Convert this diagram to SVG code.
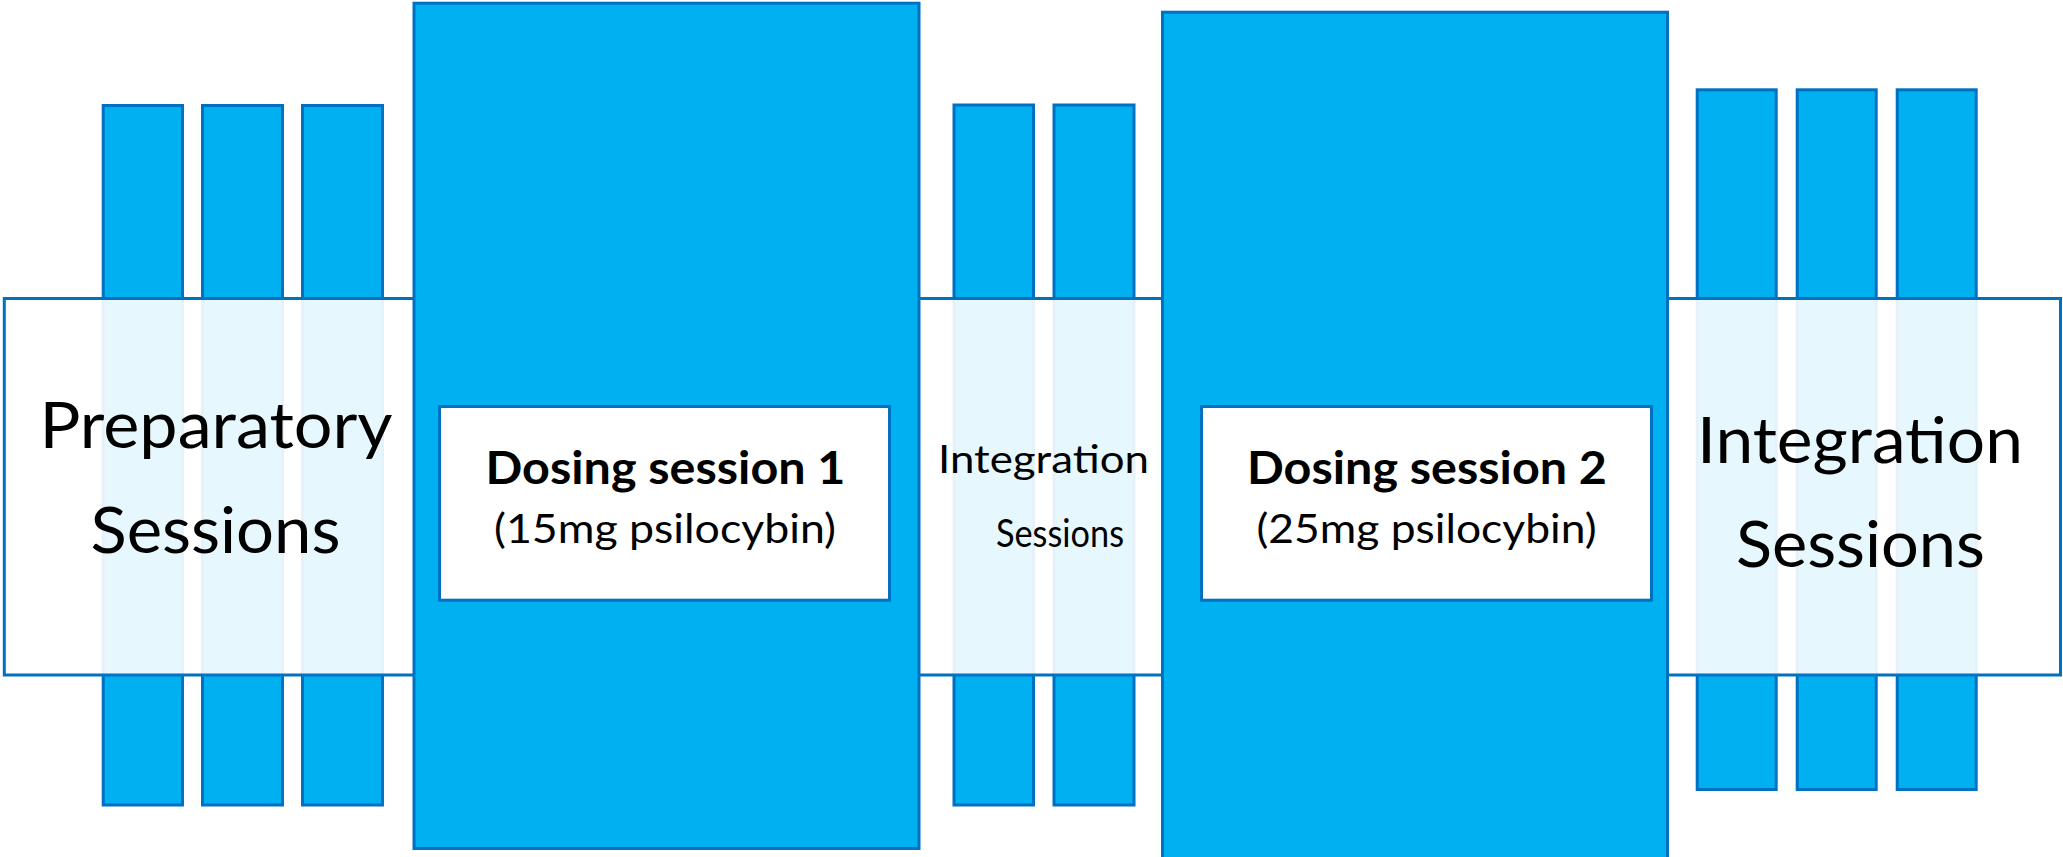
<svg xmlns="http://www.w3.org/2000/svg" width="2063" height="857" viewBox="0 0 2063 857">
<style>
.bar{fill:#00B0F0;stroke:#0070C0;stroke-width:3}
.band{fill:#FFFFFF;fill-opacity:0.9;stroke:#0070C0;stroke-width:3}
.dose{fill:#00B0F0;stroke:#0070C0;stroke-width:3}
.inner{fill:#FFFFFF;stroke:#0070C0;stroke-width:3}
text{font-family:Lato,"Open Sans","Liberation Sans",sans-serif;fill:#000000;text-anchor:middle}
.big{font-size:64px}
.mid{font-size:39px}
.bold{font-size:45px;font-weight:bold}
.sub{font-size:41px}
</style>
<g id="bars">
<rect class="bar" x="103.2" y="105.5" width="79.3" height="699.5"/>
<rect class="bar" x="202.5" y="105.5" width="80" height="699.5"/>
<rect class="bar" x="302.5" y="105.5" width="80" height="699.5"/>
<rect class="bar" x="954" y="105" width="79.5" height="700"/>
<rect class="bar" x="1054" y="105" width="80" height="700"/>
<rect class="bar" x="1697.2" y="89.8" width="79" height="699.7"/>
<rect class="bar" x="1797.2" y="89.8" width="79" height="699.7"/>
<rect class="bar" x="1897.2" y="89.8" width="79" height="699.7"/>
</g>
<g id="band">
<rect class="band" x="4.3" y="298.5" width="2056.2" height="376.5"/>
</g>
<g id="preparatory">
<text class="big" x="216" y="448" textLength="353" lengthAdjust="spacingAndGlyphs">Preparatory</text>
<text class="big" x="215.5" y="553" textLength="250" lengthAdjust="spacingAndGlyphs">Sessions</text>
</g>
<g id="integration1">
<text class="mid" x="1043.5" y="473" textLength="211" lengthAdjust="spacingAndGlyphs">Integration</text>
<text class="mid" x="1060" y="546.7" textLength="128" lengthAdjust="spacingAndGlyphs">Sessions</text>
</g>
<g id="integration2">
<text class="big" x="1860" y="462.7" textLength="326" lengthAdjust="spacingAndGlyphs">Integration</text>
<text class="big" x="1860.5" y="566.7" textLength="249" lengthAdjust="spacingAndGlyphs">Sessions</text>
</g>
<g id="dosing1">
<rect class="dose" x="414" y="3.2" width="505" height="845.3"/>
<rect class="inner" x="439.5" y="406.5" width="450" height="193.7"/>
<text class="bold" x="665.5" y="484" textLength="360" lengthAdjust="spacingAndGlyphs">Dosing session 1</text>
<text class="sub" x="665" y="543" textLength="342" lengthAdjust="spacingAndGlyphs">(15mg psilocybin)</text>
</g>
<g id="dosing2">
<rect class="dose" x="1162.5" y="12.2" width="505" height="848"/>
<rect class="inner" x="1201.5" y="406.5" width="450" height="193.7"/>
<text class="bold" x="1427" y="484" textLength="360" lengthAdjust="spacingAndGlyphs">Dosing session 2</text>
<text class="sub" x="1426.5" y="543" textLength="340" lengthAdjust="spacingAndGlyphs">(25mg psilocybin)</text>
</g>
<g id="connectors"/>
</svg>
